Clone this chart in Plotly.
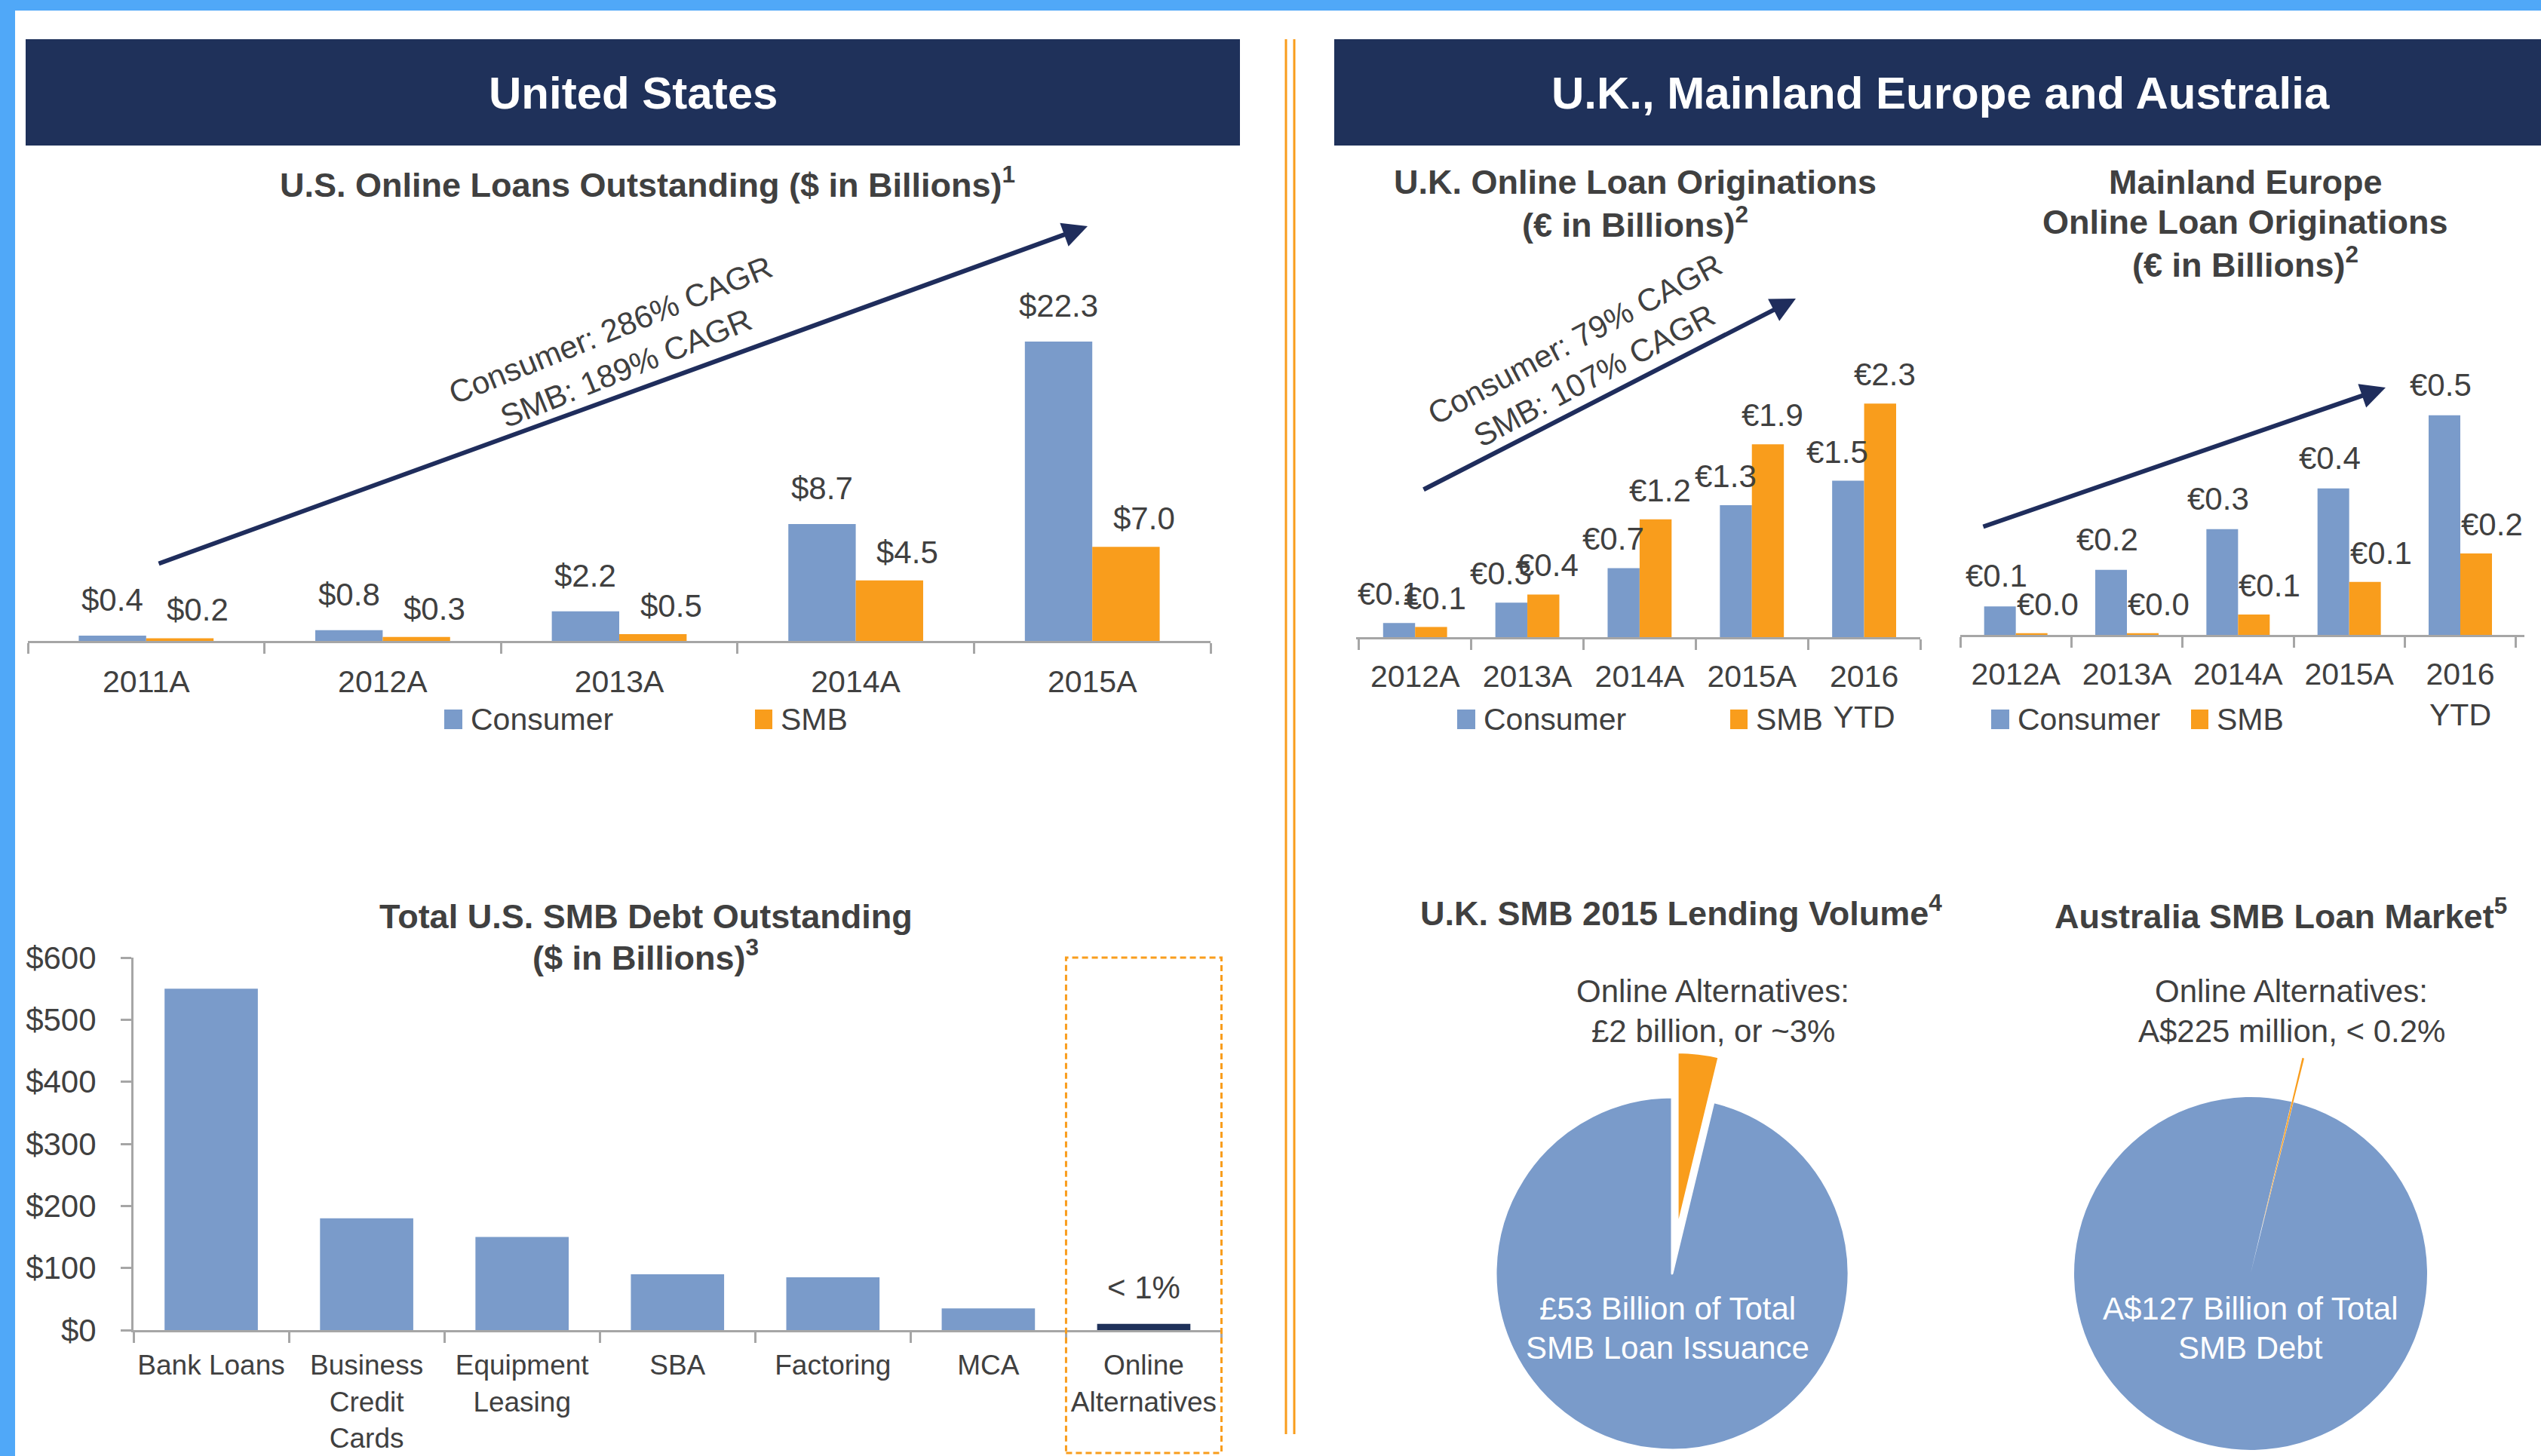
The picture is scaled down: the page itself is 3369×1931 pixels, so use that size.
import math
import plotly.graph_objects as go

W, H = 3369, 1931


def px(x):
    return x / W


def py(y):
    return 1 - y / H


# ---------------- data ----------------
us_years = ["2011A", "2012A", "2013A", "2014A", "2015A"]
us_consumer = [0.4, 0.8, 2.2, 8.7, 22.3]
us_smb = [0.2, 0.3, 0.5, 4.5, 7.0]

uk_years = ["2012A", "2013A", "2014A", "2015A", "2016<br>YTD"]
uk_consumer = [0.14, 0.34, 0.68, 1.3, 1.54]
uk_smb = [0.1, 0.42, 1.16, 1.9, 2.3]

eu_years = ["2012A", "2013A", "2014A", "2015A", "2016<br>YTD"]
eu_consumer = [0.07, 0.16, 0.26, 0.36, 0.54]
eu_smb = [0.004, 0.004, 0.05, 0.13, 0.2]

debt_types = ["Bank Loans", "Business<br>Credit<br>Cards", "Equipment<br>Leasing",
              "SBA", "Factoring", "MCA", "Online<br>Alternatives"]
debt_values = [550, 180, 150, 90, 85, 35, 10]
debt_highlight = "Online<br>Alternatives"

uk_pie_online = 2
uk_pie_total = 53
au_pie_online = 0.225
au_pie_total = 127

# ---------------- style ----------------
FONT = "Liberation Sans, Arial, Helvetica, sans-serif"
TEXT = "#404040"
BLUE = "#7a9bca"
ORANGE = "#f99d1c"
NAVY = "#1f315a"
ARROW = "#1f2d5c"
AXIS = "#a6a6a6"
FRAME = "#50a8f8"
BARGAP = 0.43
OFF = (1 - BARGAP) / 4

fig = go.Figure()
ann = []
shapes = []


def add_bars(cats, vals, color, xa, ya, width=None):
    fig.add_trace(go.Bar(x=cats, y=vals, marker=dict(color=color, line=dict(width=0)),
                         xaxis=xa, yaxis=ya, width=width, showlegend=False, hoverinfo="skip"))


def add_labels(vals, xa, ya, offset, prefix, xshift, yshift):
    for i, v in enumerate(vals):
        ann.append(dict(x=i + offset, y=v, xref=xa, yref=ya, text=f"{prefix}{v:.1f}",
                        showarrow=False, xanchor="center", yanchor="bottom",
                        xshift=xshift, yshift=yshift,
                        font=dict(size=42, color=TEXT, family=FONT)))


def text(x, y, s, size=42, color=TEXT, bold=False, angle=0, xanchor="center"):
    if bold:
        s = f"<b>{s}</b>"
    ann.append(dict(x=px(x), y=py(y), xref="paper", yref="paper", text=s, showarrow=False,
                    xanchor=xanchor, yanchor="middle", textangle=angle,
                    font=dict(size=size, color=color, family=FONT)))


def lines(cx, ys, strs, **kw):
    for y, s in zip(ys, strs):
        text(cx, y, s, **kw)


def arrow(x0, y0, x1, y1):
    ann.append(dict(x=px(x1), y=py(y1), xref="paper", yref="paper", ax=x0 - x1, ay=y0 - y1,
                    axref="pixel", ayref="pixel", text="", showarrow=True, arrowhead=2,
                    arrowsize=1.1, arrowwidth=6, arrowcolor=ARROW, standoff=0))


def rect(x0, y0, x1, y1, color):
    shapes.append(dict(type="rect", xref="paper", yref="paper", x0=px(x0), x1=px(x1),
                       y0=py(y1), y1=py(y0), fillcolor=color, line=dict(width=0)))


def legend(x_cons, x_smb, y):
    rect(x_cons, y - 13, x_cons + 24, y + 13, BLUE)
    text(x_cons + 33, y, "Consumer", size=41, xanchor="left")
    rect(x_smb, y - 13, x_smb + 23, y + 13, ORANGE)
    text(x_smb + 32, y, "SMB", size=41, xanchor="left")


# ---------------- bar charts ----------------
add_bars(us_years, us_consumer, BLUE, "x", "y")
add_bars(us_years, us_smb, ORANGE, "x", "y")
add_labels(us_consumer, "x", "y", -OFF, "$", 0, 22)
add_labels(us_smb, "x", "y", OFF, "$", 24, 12)

add_bars(uk_years, uk_consumer, BLUE, "x2", "y2")
add_bars(uk_years, uk_smb, ORANGE, "x2", "y2")
add_labels(uk_consumer, "x2", "y2", -OFF, "€", -14, 13)
add_labels(uk_smb, "x2", "y2", OFF, "€", 6, 13)

add_bars(eu_years, eu_consumer, BLUE, "x3", "y3")
add_bars(eu_years, eu_smb, ORANGE, "x3", "y3")
add_labels(eu_consumer, "x3", "y3", -OFF, "€", -5, 15)
add_labels(eu_smb, "x3", "y3", OFF, "€", 21, 13)

debt_colors = [NAVY if c == debt_highlight else BLUE for c in debt_types]
add_bars(debt_types, debt_values, debt_colors, "x4", "y4", width=0.6)
hi = debt_types.index(debt_highlight)
ann.append(dict(x=hi, y=debt_values[hi], xref="x4", yref="y4", text="< 1%", showarrow=False,
                xanchor="center", yanchor="bottom", yshift=23,
                font=dict(size=42, color=TEXT, family=FONT)))
shapes.append(dict(type="rect", xref="x4", yref="paper", x0=hi - 0.5, x1=hi + 0.5,
                   y0=py(1927), y1=py(1270), line=dict(color=ORANGE, width=3, dash="8px,5px"),
                   fillcolor="rgba(0,0,0,0)"))


# ---------------- pies ----------------
def add_pie(online, total, cx, cy, r, rotation, pull, border):
    other = total - online
    share = online / total
    mid = math.radians(rotation + 180 * share)
    dx = pull * math.sin(mid)
    dy = -pull * math.cos(mid)
    clear = "rgba(0,0,0,0)"
    common = dict(values=[online, other], sort=False, direction="clockwise", rotation=rotation,
                  textinfo="none", hoverinfo="skip", showlegend=False)
    fig.add_trace(go.Pie(marker=dict(colors=[clear, BLUE], line=dict(color="white", width=[0, border])),
                         domain=dict(x=[px(cx - r), px(cx + r)], y=[py(cy + r), py(cy - r)]),
                         **common))
    fig.add_trace(go.Pie(marker=dict(colors=[ORANGE, clear], line=dict(color="white", width=[border, 0])),
                         domain=dict(x=[px(cx + dx - r), px(cx + dx + r)],
                                     y=[py(cy + dy + r), py(cy + dy - r)]),
                         **common))


add_pie(uk_pie_online, uk_pie_total, 2217, 1689, 234, 0, 60, 3)
add_pie(au_pie_online, au_pie_total, 2984, 1689, 234, 13.4, 60, 0)

# ---------------- decorations ----------------
rect(0, 0, W, 14, FRAME)
rect(0, 0, 20, H, FRAME)
rect(34, 52, 1644, 193, NAVY)
rect(1769, 52, W, 193, NAVY)
for xl in (1705, 1716):
    shapes.append(dict(type="line", xref="paper", yref="paper", x0=px(xl), x1=px(xl),
                       y0=py(1902), y1=py(52), line=dict(color=ORANGE, width=3)))

text(839, 123, "United States", size=60, color="white", bold=True)
text(2573, 123, "U.K., Mainland Europe and Australia", size=60, color="white", bold=True)

text(858, 242, "U.S. Online Loans Outstanding ($ in Billions)<sup>1</sup>", size=45, bold=True)
lines(2168, [242, 295], ["U.K. Online Loan Originations", "(€ in Billions)<sup>2</sup>"],
      size=45, bold=True)
lines(2977, [242, 295, 348], ["Mainland Europe", "Online Loan Originations",
                              "(€ in Billions)<sup>2</sup>"], size=45, bold=True)
lines(856, [1215, 1267], ["Total U.S. SMB Debt Outstanding", "($ in Billions)<sup>3</sup>"],
      size=45, bold=True)
text(2229, 1208, "U.K. SMB 2015 Lending Volume<sup>4</sup>", size=45, bold=True)
text(3024, 1212, "Australia SMB Loan Market<sup>5</sup>", size=45, bold=True)

lines(2271, [1314, 1367], ["Online Alternatives:", "£2 billion, or ~3%"], size=42)
lines(3038, [1314, 1367], ["Online Alternatives:", "A$225 million, < 0.2%"], size=42)
lines(2211, [1735, 1787], ["£53 Billion of Total", "SMB Loan Issuance"], size=42, color="white")
lines(2984, [1735, 1787], ["A$127 Billion of Total", "SMB Debt"], size=42, color="white")

text(820, 463, "Consumer: 286% CAGR<br>SMB: 189% CAGR", size=42, angle=-22)
text(2101, 474, "Consumer: 79% CAGR<br>SMB: 107% CAGR", size=42, angle=-28)
arrow(209, 748, 1442, 300)
arrow(1886, 650, 2381, 396)
arrow(2628, 699, 3163, 514)

legend(589, 1001, 954)
legend(1932, 2294, 954)
legend(2640, 2905, 954)


# ---------------- axes ----------------
def cat_axis(x0, x1, anchor, size, standoff):
    return dict(domain=[px(x0), px(x1)], anchor=anchor, type="category", showline=True,
                linecolor=AXIS, linewidth=3, ticks="outside", tickson="boundaries", ticklen=14,
                tickwidth=3, tickcolor=AXIS, tickfont=dict(size=size, color=TEXT, family=FONT),
                showgrid=False, zeroline=False, tickangle=0, ticklabelstandoff=standoff,
                automargin=False, fixedrange=True)


def hidden_y(y_base, y_top, top, anchor):
    return dict(domain=[py(y_base), py(y_top)], anchor=anchor, range=[0, top], visible=False,
                automargin=False, fixedrange=True)


fig.update_layout(
    width=W, height=H, autosize=False, margin=dict(l=0, r=0, t=0, b=0, pad=0, autoexpand=False),
    paper_bgcolor="white", plot_bgcolor="rgba(0,0,0,0)",
    font=dict(family=FONT, color=TEXT), showlegend=False,
    barmode="group", bargap=BARGAP, bargroupgap=0,
    xaxis=cat_axis(37, 1605, "y", 41, 16),
    yaxis=hidden_y(850, 387, 26, "x"),
    xaxis2=cat_axis(1798, 2546, "y2", 41, 14),
    yaxis2=hidden_y(845, 441, 3, "x2"),
    xaxis3=cat_axis(2599, 3347, "y3", 41, 14),
    yaxis3=hidden_y(842, 432, 0.76, "x3"),
    xaxis4=cat_axis(177, 1621, "y4", 37, 12),
    yaxis4=dict(domain=[py(1764), py(1270)], anchor="x4", range=[0, 600], dtick=100,
                tickprefix="$", showline=True, linecolor=AXIS, linewidth=3, ticks="outside",
                ticklen=14, tickwidth=3, tickcolor=AXIS, showgrid=False, zeroline=False,
                tickfont=dict(size=42, color=TEXT, family=FONT), ticklabelstandoff=24,
                automargin=False, fixedrange=True),
    annotations=ann,
    shapes=shapes,
)

page_fix = (
    "document.documentElement.style.margin='0';document.body.style.margin='0';"
    "document.body.style.padding='0';document.body.style.overflow='hidden';"
    "document.documentElement.style.overflow='hidden';"
    "var d=document.getElementById('{plot_id}');d.style.position='absolute';"
    "d.style.left='0px';d.style.top='0px';"
)

fig.write_html("out.html", post_script=page_fix, config={"displayModeBar": False})
